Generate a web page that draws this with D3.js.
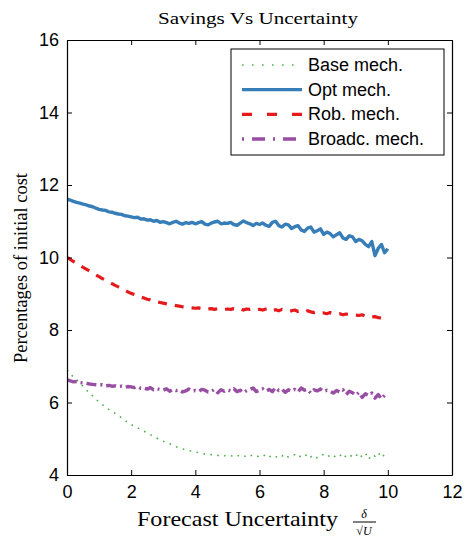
<!DOCTYPE html>
<html><head><meta charset="utf-8">
<script src="https://cdn.jsdelivr.net/npm/d3@7"></script>
<style>body{margin:0;background:#fff}svg{display:block}</style>
</head><body>
<script>
const xTicks = [0,2,4,6,8,10,12];
const yTicks = [4,6,8,10,12,14,16];
const seriesNames = ["Base mech.","Opt mech.","Rob. mech.","Broadc. mech."];
const xValues = d3.range(0, 101).map(i => i / 10);
const baseMech = [
6.90,6.80,6.70,6.62,6.55,6.44,6.35,6.26,6.18,6.09,
6.01,5.94,5.87,5.81,5.76,5.70,5.63,5.58,5.51,5.45,
5.39,5.35,5.30,5.26,5.21,5.16,5.11,5.07,5.02,4.97,
4.93,4.90,4.86,4.82,4.78,4.75,4.72,4.70,4.67,4.66,
4.63,4.62,4.60,4.58,4.59,4.56,4.57,4.54,4.56,4.53,
4.55,4.52,4.54,4.51,4.56,4.53,4.50,4.55,4.52,4.49,
4.54,4.51,4.57,4.50,4.53,4.48,4.55,4.52,4.58,4.49,
4.53,4.56,4.48,4.54,4.51,4.59,4.50,4.55,4.47,4.53,
4.57,4.50,4.54,4.48,4.56,4.52,4.60,4.49,4.55,4.51,
4.58,4.46,4.54,4.61,4.43,4.56,4.52,4.62,4.48,4.57,
4.55];
const optMech = [
11.61,11.58,11.55,11.52,11.50,11.47,11.45,11.42,11.40,11.36,
11.33,11.31,11.30,11.26,11.25,11.22,11.20,11.19,11.15,11.14,
11.12,11.10,11.11,11.06,11.07,11.03,11.04,11.00,11.02,10.97,
10.99,10.96,10.93,10.97,11.00,10.95,10.92,10.96,10.94,10.97,
10.93,10.96,10.99,10.92,10.90,10.95,10.98,11.00,10.93,10.95,
10.94,10.97,10.91,10.89,10.95,11.01,10.96,10.93,10.88,10.94,
10.91,10.95,10.89,10.86,10.97,11.00,10.88,10.84,10.92,10.90,
10.80,10.85,10.88,10.76,10.72,10.81,10.84,10.70,10.74,10.79,
10.64,10.70,10.66,10.57,10.63,10.68,10.54,10.50,10.60,10.57,
10.44,10.50,10.46,10.36,10.30,10.44,10.05,10.25,10.36,10.13,
10.24];
const robMech = [
10.00,9.95,9.89,9.84,9.78,9.73,9.68,9.63,9.58,9.52,
9.47,9.42,9.37,9.33,9.28,9.23,9.19,9.14,9.10,9.05,
9.01,8.98,8.94,8.91,8.88,8.85,8.83,8.80,8.77,8.76,
8.74,8.72,8.70,8.69,8.67,8.66,8.64,8.63,8.62,8.61,
8.60,8.61,8.59,8.60,8.58,8.59,8.57,8.59,8.58,8.56,
8.58,8.57,8.59,8.56,8.58,8.55,8.58,8.57,8.59,8.56,
8.57,8.55,8.58,8.60,8.54,8.56,8.53,8.57,8.54,8.52,
8.53,8.55,8.51,8.52,8.49,8.53,8.50,8.48,8.50,8.47,
8.47,8.45,8.48,8.46,8.44,8.45,8.42,8.44,8.43,8.41,
8.41,8.40,8.42,8.38,8.39,8.36,8.37,8.34,8.33,8.31,
8.29];
const broadcMech = [
6.62,6.60,6.57,6.58,6.55,6.54,6.53,6.51,6.50,6.49,
6.48,6.49,6.46,6.47,6.45,6.46,6.44,6.45,6.42,6.44,
6.43,6.41,6.44,6.39,6.40,6.37,6.41,6.35,6.38,6.36,
6.34,6.38,6.31,6.36,6.33,6.35,6.29,6.32,6.37,6.32,
6.33,6.30,6.36,6.34,6.29,6.31,6.36,6.27,6.35,6.31,
6.35,6.32,6.38,6.30,6.34,6.27,6.33,6.36,6.40,6.30,
6.34,6.38,6.31,6.36,6.30,6.41,6.33,6.37,6.28,6.35,
6.31,6.36,6.29,6.40,6.34,6.36,6.26,6.35,6.32,6.37,
6.30,6.34,6.31,6.26,6.33,6.29,6.35,6.22,6.31,6.27,
6.20,6.28,6.14,6.24,6.19,6.26,6.12,6.22,6.10,6.20,
6.14];
const seriesValues = [baseMech, optMech, robMech, broadcMech];
const seriesColors = ["#4daf4a","#377eb8","#e41a1c","#984ea3"];
const seriesDash = ["1.6,5.5", null, "9,8", "10,4,2,4"];
const legendDash = ["1.6,8.4", null, "10,15", "2,8,13,8"];
const seriesWidth = [1.6, 3.4, 3.2, 3.4];

const W = 465, H = 538;
const L = 67, R = 452, T = 40, B = 475;
const svg = d3.select("body").append("svg").attr("width", W).attr("height", H);
const x = d3.scaleLinear().domain([0,12]).range([L,R]);
const y = d3.scaleLinear().domain([4,16]).range([B,T]);

const serif = "'Liberation Serif','Times New Roman',serif";
const font = "'Liberation Sans',Arial,sans-serif";

// title
svg.append("text").attr("x", 258).attr("y", 24).attr("text-anchor","middle")
  .attr("font-family",serif).attr("font-size",16.5)
  .attr("textLength",200).attr("lengthAdjust","spacingAndGlyphs")
  .text("Savings Vs Uncertainty");

// series
const line = d3.line().x((d,i)=>x(xValues[i])).y(d=>y(d));
svg.append("clipPath").attr("id","c").append("rect")
  .attr("x",L).attr("y",T).attr("width",R-L).attr("height",B-T);
seriesValues.forEach((vals, k) => {
  svg.append("path").datum(vals).attr("d", line).attr("fill","none")
    .attr("clip-path","url(#c)")
    .attr("stroke", seriesColors[k]).attr("stroke-width", seriesWidth[k])
    .attr("stroke-dasharray", seriesDash[k]).attr("stroke-linejoin","round");
});

// axes (box with inward ticks)
const gB = svg.append("g").attr("transform",`translate(0,${B})`)
  .call(d3.axisBottom(x).tickValues(xTicks).tickSizeInner(-5).tickSizeOuter(0).tickPadding(10).tickFormat(d3.format("d")));
const gT = svg.append("g").attr("transform",`translate(0,${T})`)
  .call(d3.axisTop(x).tickValues(xTicks).tickSizeInner(-5).tickSizeOuter(0).tickFormat(""));
const gL = svg.append("g").attr("transform",`translate(${L},0)`)
  .call(d3.axisLeft(y).tickValues(yTicks).tickSizeInner(-5).tickSizeOuter(0).tickPadding(8).tickFormat(d3.format("d")));
const gR = svg.append("g").attr("transform",`translate(${R},0)`)
  .call(d3.axisRight(y).tickValues(yTicks).tickSizeInner(-5).tickSizeOuter(0).tickFormat(""));
[gB,gT,gL,gR].forEach(g=>{
  g.selectAll("path").attr("stroke","#000").attr("stroke-width",1.2);
  g.selectAll("line").attr("stroke","#000").attr("stroke-width",1);
  g.selectAll("text").attr("font-family",font).attr("font-size",18).attr("fill","#000");
});
gB.selectAll("text").attr("dy","0.72em");

// legend
const lg = svg.append("g");
lg.append("rect").attr("x",231).attr("y",49).attr("width",213).attr("height",106)
  .attr("fill","#fff").attr("stroke","#000").attr("stroke-width",1);
const ly = d3.scaleLinear().domain([0,3]).range([65,139]);
seriesNames.forEach((n,k)=>{
  lg.append("line").attr("x1",242).attr("x2",302).attr("y1",ly(k)).attr("y2",ly(k))
    .attr("stroke",seriesColors[k]).attr("stroke-width",seriesWidth[k])
    .attr("stroke-dasharray",legendDash[k]);
  lg.append("text").attr("x",308).attr("y",ly(k)+6).attr("font-family",font)
    .attr("font-size",18).text(n);
});

// x label
svg.append("text").attr("x",137).attr("y",526).attr("font-family",serif).attr("font-size",21)
  .attr("textLength",201).attr("lengthAdjust","spacingAndGlyphs").text("Forecast Uncertainty");
svg.append("text").attr("x",364).attr("y",518).attr("text-anchor","middle").attr("font-family",serif)
  .attr("font-style","italic").attr("font-size",12).text("δ");
svg.append("line").attr("x1",353).attr("x2",376).attr("y1",522).attr("y2",522).attr("stroke","#000").attr("stroke-width",1);
svg.append("text").attr("x",364).attr("y",535).attr("text-anchor","middle").attr("font-family",serif)
  .attr("font-size",12).html("√<tspan font-style='italic'>U</tspan>");

// y label
svg.append("text").attr("transform","translate(27,268) rotate(-90)").attr("text-anchor","middle")
  .attr("font-family",serif).attr("font-size",18)
  .attr("textLength",190).attr("lengthAdjust","spacingAndGlyphs").text("Percentages of initial cost");
</script>
</body></html>
